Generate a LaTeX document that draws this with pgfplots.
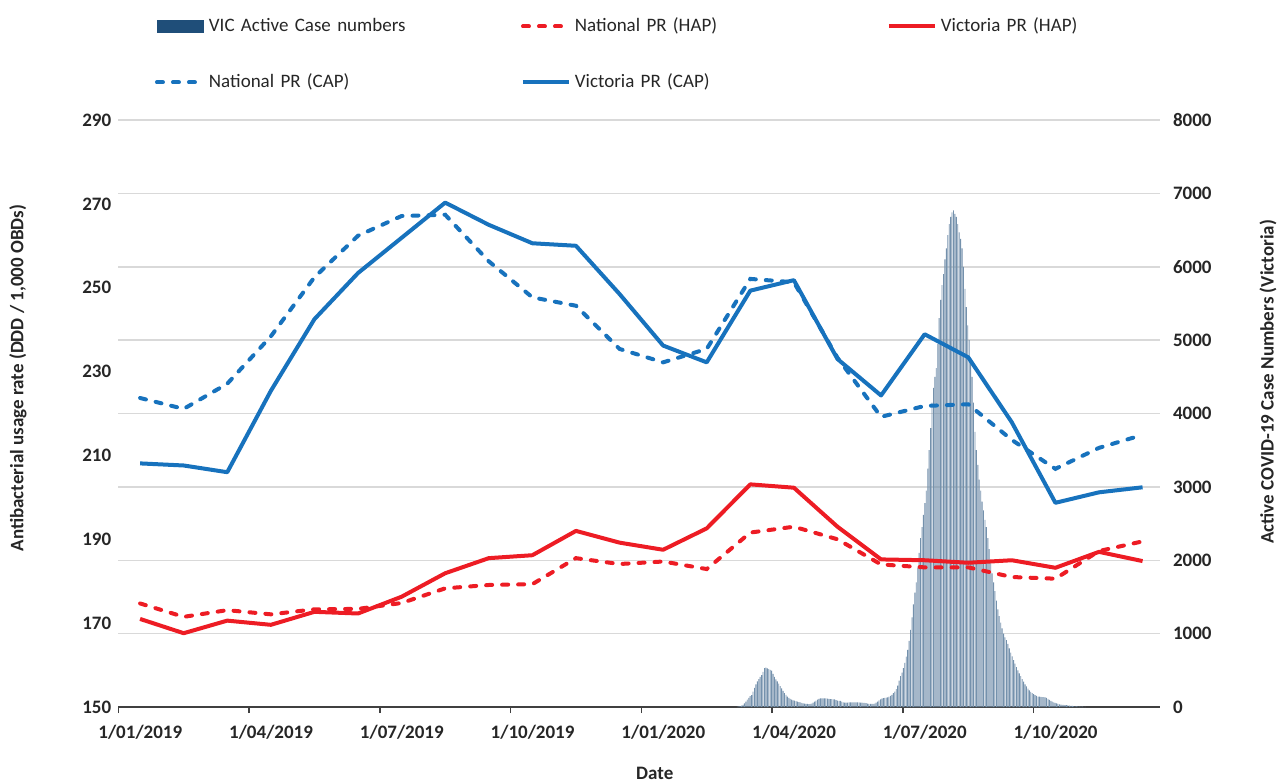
\documentclass[border=0pt]{standalone}
\usepackage{pgfplots}
\usepackage{pgfplotstable}
\pgfplotsset{compat=1.18}
\usepackage{fontspec}
\setmainfont{Carlito}
\definecolor{cblue}{HTML}{1772BD}
\definecolor{cred}{HTML}{ED1C24}
\definecolor{cbar}{HTML}{1F4E79}
\definecolor{cgrid}{HTML}{D9D9D9}
\definecolor{caxis}{HTML}{404040}
\definecolor{ctext}{HTML}{262626}

% Victoria active COVID-19 cases, day of 2020 (0 = 1 Jan 2020)
\pgfplotstableread{
d v
67 5
68 8
69 12
70 18
71 30
72 50
73 75
74 100
75 125
76 148
77 163
78 210
79 260
80 310
81 350
82 380
83 410
84 436
85 480
86 530
87 538
88 525
89 515
90 505
91 495
92 450
93 410
94 375
95 350
96 320
97 285
98 255
99 220
100 190
101 165
102 140
103 125
104 110
105 100
106 92
107 86
108 80
109 74
110 68
111 62
112 57
113 50
114 45
115 42
116 41
117 40
118 41
119 45
120 60
121 72
122 88
123 102
124 112
125 118
126 119
127 118
128 118
129 116
130 114
131 112
132 109
133 107
134 105
135 103
136 95
137 88
138 85
139 82
140 72
141 62
142 59
143 59
144 60
145 62
146 64
147 64
148 64
149 64
150 64
151 63
152 62
153 60
154 58
155 56
156 55
157 52
158 47
159 44
160 42
161 41
162 42
163 45
164 58
165 75
166 92
167 105
168 115
169 120
170 124
171 128
172 132
173 140
174 150
175 165
176 190
177 210
178 245
179 290
180 360
181 420
182 470
183 530
184 600
185 685
186 780
187 900
188 1050
189 1220
190 1400
191 1560
192 1700
193 1900
194 2100
195 2300
196 2450
197 2620
198 2780
199 2950
200 3250
201 3500
202 3800
203 4150
204 4350
205 4500
206 4620
207 4950
208 5300
209 5550
210 5750
211 5900
212 6100
213 6250
214 6430
215 6580
216 6680
217 6740
218 6770
219 6720
220 6680
221 6580
222 6470
223 6380
224 6250
225 6000
226 5700
227 5450
228 5200
229 5000
230 4750
231 4500
232 4150
233 3750
234 3500
235 3300
236 3100
237 2950
238 2800
239 2680
240 2550
241 2450
242 2300
243 2150
244 1980
245 1820
246 1700
247 1580
248 1450
249 1330
250 1240
251 1150
252 1070
253 1000
254 950
255 910
256 860
257 800
258 740
259 690
260 640
261 590
262 545
263 500
264 460
265 420
266 380
267 345
268 310
269 280
270 250
271 225
272 205
273 190
274 175
275 162
276 150
277 142
278 140
279 138
280 136
281 134
282 131
283 125
284 110
285 98
286 85
287 73
288 63
289 55
290 48
291 42
292 37
293 33
294 30
295 28
296 26
297 24
298 22
299 19
300 16
301 14
302 12
303 10
304 9
305 8
306 6
307 5
308 4
309 3
310 2
}\casetable

% monthly prescribing rates, x = month index (0 = Jan 2019), mid-month
\pgfplotstableread{
x vcap ncap vhap nhap
0.5 208.1 223.7 171.0 174.7
1.5 207.6 221.1 167.6 171.5
2.5 206.0 227.1 170.6 173.1
3.5 225.4 238.4 169.6 172.1
4.5 242.5 252.5 172.7 173.3
5.5 253.5 262.4 172.3 173.4
6.5 261.9 267.1 176.3 174.8
7.5 270.3 267.4 181.9 178.3
8.5 265.0 256.3 185.5 179.1
9.5 260.6 247.7 186.2 179.3
10.5 260.0 245.7 192.0 185.5
11.5 248.5 235.4 189.2 184.1
12.5 236.2 232.2 187.5 184.7
13.5 232.2 235.4 192.6 182.9
14.5 249.3 252.1 203.1 191.6
15.5 251.8 251.3 202.3 193.0
16.5 233.0 233.3 193.0 190.0
17.5 224.3 219.2 185.2 184.0
18.5 238.9 221.8 185.0 183.3
19.5 233.4 222.2 184.4 183.3
20.5 217.9 213.7 185.0 181.0
21.5 198.7 206.8 183.2 180.6
22.5 201.2 211.8 187.0 187.2
23.5 202.4 214.9 184.8 189.5
}\ratetable

\pgfplotsset{
  common/.style={
    at={(0pt,0pt)}, anchor=south west,
    scale only axis, width=520.85pt, height=293.5pt,
    xmin=0, xmax=23.9,
    /pgf/number format/assume math mode=true,
    /pgf/number format/1000 sep={},
    tick label style={font=\fontsize{9.5}{11.5}\selectfont\bfseries, text=ctext},
  },
}

\begin{document}
\begin{tikzpicture}
\useasboundingbox (-59.15pt,-37.5pt) rectangle (580.35pt,353.5pt);
% right axis: bars
\begin{axis}[common,
  ymin=0, ymax=8000, ytick={0,1000,...,8000},
  axis x line*=bottom, axis y line*=right,
  x axis line style={caxis, line width=0.8pt},
  y axis line style={draw=none},
  xtick={0,3,...,21},
  xticklabels={1/01/2019,1/04/2019,1/07/2019,1/10/2019,1/01/2020,1/04/2020,1/07/2020,1/10/2020},
  x tick style={caxis, line width=0.8pt},
  tick align=outside, major tick length=3pt,
  y tick style={draw=none},
  xticklabel style={xshift=11pt, yshift=-2.5pt},
  ymajorgrids, grid style={cgrid, line width=0.75pt},
  xlabel={Date},
  ylabel={Active COVID-19 Case Numbers (Victoria)},
  every axis x label/.style={at={(axis description cs:0.515,-0.1124)}, anchor=center,
    font=\fontsize{9.5}{11.5}\selectfont\bfseries, text=ctext},
  every axis y label/.style={at={(axis description cs:1.1037,0.554)}, anchor=center, rotate=90,
    font=\fontsize{9.5}{11.5}\selectfont\bfseries, text=ctext},
]
\addplot[ybar, bar width=0.02, fill=cbar!62!white, draw=none]
  table[x expr=12+\thisrow{d}/30.44, y=v]{\casetable};
\end{axis}
% left axis: lines
\begin{axis}[common,
  ymin=150, ymax=290, ytick={150,170,...,290},
  axis x line=none, axis y line*=left,
  y axis line style={draw=none}, y tick style={draw=none},
  ylabel={Antibacterial usage rate (DDD / 1,000 OBDs)},
  every axis y label/.style={at={(axis description cs:-0.0963,0.5605)}, anchor=center, rotate=90,
    font=\fontsize{9.5}{11.5}\selectfont\bfseries, text=ctext},
  legend columns=3,
  legend cell align=left,
  legend style={at={(axis description cs:0.0352,1.1806)}, anchor=north west,
    draw=none, fill=none, inner sep=0pt, outer sep=0pt,
    column sep=0pt, row sep=15.5pt,
    font=\fontsize{9.5}{11.5}\selectfont,
    nodes={text width=154pt, inner sep=2pt, text=ctext}},
  legend image code/.code={\draw[#1] (0pt,0pt) -- (23pt,0pt);},
]
\addlegendimage{legend image code/.code={\fill[cbar] (0pt,-3pt) rectangle (23pt,3pt);}}
\addlegendentry{VIC Active Case numbers}
\addplot[cred, line width=2pt, line cap=round, dash pattern=on 3pt off 5pt] table[x=x, y=nhap]{\ratetable};
\addlegendentry{National PR (HAP)}
\addplot[cred, line width=2pt, line join=round] table[x=x, y=vhap]{\ratetable};
\addlegendentry{Victoria PR (HAP)}
\addplot[cblue, line width=2pt, line cap=round, dash pattern=on 3pt off 5pt] table[x=x, y=ncap]{\ratetable};
\addlegendentry{National PR (CAP)}
\addplot[cblue, line width=2pt, line join=round] table[x=x, y=vcap]{\ratetable};
\addlegendentry{Victoria PR (CAP)}
\end{axis}
\end{tikzpicture}
\end{document}
